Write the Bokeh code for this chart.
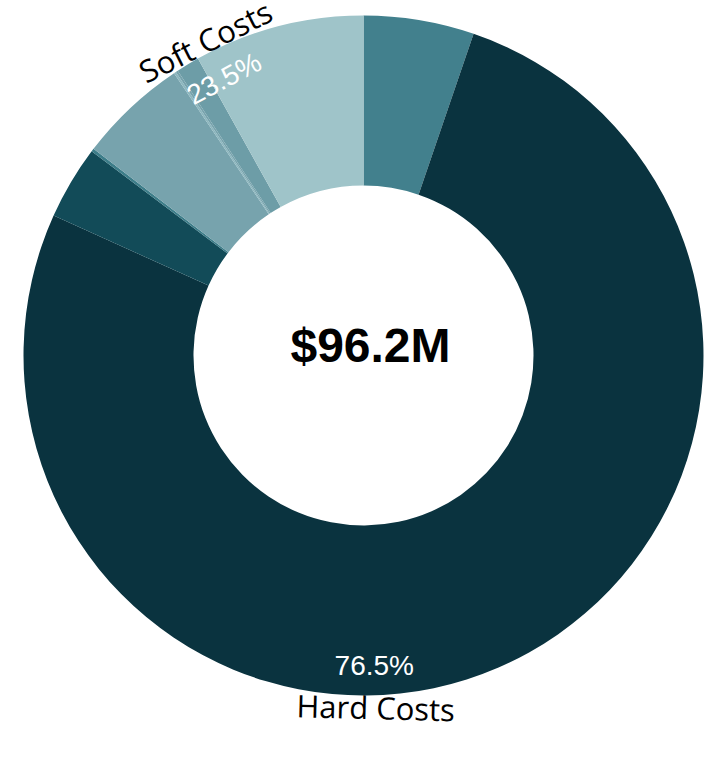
import math
from bokeh.plotting import figure
from bokeh.models import Range1d, ColumnDataSource
from bokeh.core.properties import value
from bokeh.embed import file_html
from bokeh.resources import INLINE

# ---- data (values in $M, clockwise from 12 o'clock) ----
segments = ["Soft A", "Hard Costs", "Soft B", "Soft C", "Soft D", "Soft E", "Soft F", "Soft G", "Soft H"]
groups = ["Soft Costs", "Hard Costs", "Soft Costs", "Soft Costs", "Soft Costs", "Soft Costs", "Soft Costs", "Soft Costs", "Soft Costs"]
amounts = [5.05, 73.6, 3.37, 0.14, 5.0, 0.1, 0.1, 1.06, 7.79]
colors = ["#42808D", "#0A333F", "#124B58", "#3D7D89", "#77A3AD", "#8DB7BF", "#77A3AD", "#6D9DA7", "#9FC4C9"]
total_label = "$96.2M"
group_names = ["Hard Costs", "Soft Costs"]

# ---- layout constants ----
W, H = 715, 767
CX, CY = 363, 355          # ring centre in canvas pixels (from top-left)
R_OUT, R_IN = 340, 170
label_angle_cw = {"Hard Costs": 178.0, "Soft Costs": 333.3}
name_rot = {"Hard Costs": -1.5, "Soft Costs": 26.6}
pct_rot = {"Hard Costs": 0.0, "Soft Costs": 28.0}
PCT_R, NAME_R = 310, 352

total = sum(amounts)
starts, ends = [], []
cum = 0.0
for a in amounts:
    starts.append(math.pi / 2 - cum / total * 2 * math.pi)
    cum += a
    ends.append(math.pi / 2 - cum / total * 2 * math.pi)

src = ColumnDataSource(dict(seg=segments, start=starts, end=ends, color=colors))

p = figure(width=W, height=H, output_backend="svg", toolbar_location=None,
           x_range=Range1d(-CX, W - CX), y_range=Range1d(-(H - CY), CY),
           min_border=0, outline_line_color=None, background_fill_color="white",
           border_fill_color="white")
p.axis.visible = False
p.grid.visible = False

p.annular_wedge(x=0, y=0, inner_radius=R_IN, outer_radius=R_OUT,
                start_angle="start", end_angle="end", direction="clock",
                fill_color="color", line_color=None, source=src)

# centre total
p.text(x=[0], y=[0], text=[total_label], x_offset=7, y_offset=-10,
       text_align="center", text_baseline="middle",
       text_font=value("Liberation Sans"), text_font_style="bold",
       text_font_size="48px", text_color="black")

# group labels
for g in group_names:
    gsum = sum(a for a, gg in zip(amounts, groups) if gg == g)
    pct = f"{gsum / total * 100:.1f}%"
    phi = math.radians(90 - label_angle_cw[g])
    p.text(x=[PCT_R * math.cos(phi)], y=[PCT_R * math.sin(phi)], text=[pct],
           angle=math.radians(pct_rot[g]), text_align="center", text_baseline="middle",
           text_font=value("Liberation Sans"), text_font_size="28px", text_color="white")
    p.text(x=[NAME_R * math.cos(phi)], y=[NAME_R * math.sin(phi)], text=[g],
           angle=math.radians(name_rot[g]), text_align="center", text_baseline="middle",
           text_font=value("Open Sans"), text_font_size="31px", text_color="black")

open("out.html", "w").write(file_html(p, INLINE))
